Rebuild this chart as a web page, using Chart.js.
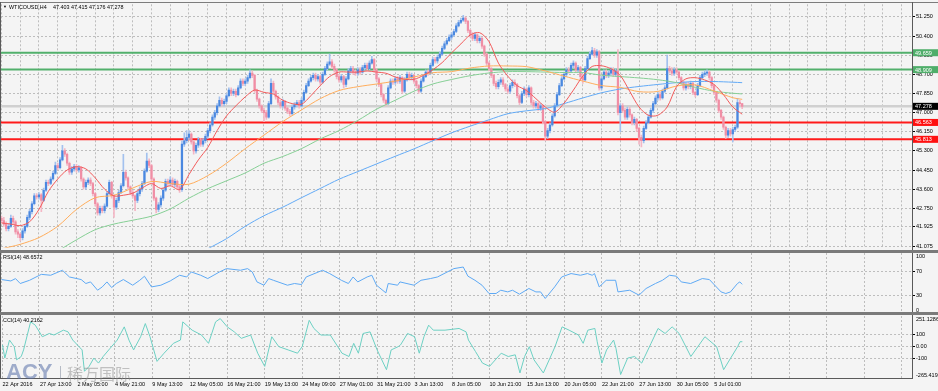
<!DOCTYPE html>
<html lang="en">
<head>
<meta charset="UTF-8">
<title>WTICOUSD,H4</title>
<script src="https://cdn.jsdelivr.net/npm/chart.js"></script>
<style>
  body { margin: 0; background: #f4f4f4; }
  #wrap { position: relative; width: 938px; height: 391px; overflow: hidden; background: #f4f4f4; font-family: 'Liberation Sans', Arial, sans-serif; }
  #wrap canvas { position: absolute; left: 0; }
  .rule { position: absolute; z-index: 2; }
  .txt { position: absolute; z-index: 3; font-size: 5.4px; line-height: 6px; color: #000; white-space: pre; }
  .wm { position: absolute; z-index: 3; white-space: nowrap; }
</style>
</head>
<body>
<div id="wrap">
  <canvas id="mainChart" width="938" height="252" style="top:0"></canvas>
  <canvas id="rsiChart" width="938" height="66" style="top:250px"></canvas>
  <canvas id="cciChart" width="938" height="77" style="top:314px"></canvas>

  <div class="rule" style="left:0;top:2px;width:938px;height:1px;background:#7c7c7c"></div>
  <div class="rule" style="left:0;top:2px;width:1px;height:377px;background:#5a5a5a"></div>
  <div class="rule" style="left:912px;top:2px;width:1px;height:377px;background:#5a5a5a"></div>
  <div class="rule" style="left:0;top:250px;width:938px;height:3px;background:#7a7a7a"></div>
  <div class="rule" style="left:0;top:312px;width:938px;height:3px;background:#7a7a7a"></div>
  <div class="rule" style="left:0;top:378px;width:913px;height:1px;background:#5a5a5a"></div>

  <div class="txt" style="left:3px;top:4px;font-size:4px">▼</div>
  <div class="txt" id="symbol" style="left:9px;top:3.8px">WTICOUSD,H4</div>
  <div class="txt" id="ohlc" style="left:53px;top:3.8px"></div>
  <div class="txt" style="left:3px;top:254px">RSI(14) 48.6572</div>
  <div class="txt" style="left:3px;top:317px">CCI(14) 40.2162</div>

  <div class="wm" style="left:6px;top:361px;font:bold 22px/22px 'Liberation Sans',Arial,sans-serif;color:rgba(88,112,168,0.55)">ACY</div>
  <div class="wm" style="left:60px;top:366px;width:1px;height:13px;background:rgba(120,130,150,0.5)"></div>
  <div class="wm" style="left:67px;top:365px;font:16px/16px 'Noto Sans CJK SC',sans-serif;color:rgba(140,140,140,0.5)">稀万国际</div>
</div>
<script>
  const FONT = "'Liberation Sans', Arial, sans-serif";
  const GRID = '#bdbdbd';
  const X_MIN = -0.2, X_MAX = 388.45;

  // H4 candles, one entry per bar (bar 0 = 22 Apr 2016)
  const opens = [
    42.30,42.20,42.05,41.85,41.95,42.30,42.15,41.70,41.60,41.45,41.75,41.95,42.35,42.60,42.95,43.30,
    43.25,43.35,43.10,43.55,43.90,43.85,44.05,44.30,44.65,44.55,44.90,45.30,45.15,44.75,44.35,44.50,
    44.60,44.45,44.55,44.05,43.70,43.90,44.00,43.85,43.40,42.95,42.55,42.75,42.65,42.85,43.40,43.90,
    43.30,42.80,43.10,43.45,43.75,44.35,44.10,43.70,43.45,43.30,43.10,43.40,43.60,43.85,44.40,44.85,
    44.65,44.05,43.20,42.70,42.90,43.20,43.55,43.95,43.85,44.00,43.80,43.95,43.70,43.58,45.60,45.75,
    45.90,46.05,45.70,45.30,45.55,45.80,45.60,45.75,45.95,46.20,46.45,46.80,47.00,47.30,47.55,47.40,
    47.50,47.75,48.00,47.85,47.95,47.80,48.10,48.40,48.30,48.40,48.55,48.75,48.65,48.00,47.60,47.30,
    47.10,47.00,46.80,47.40,48.30,47.95,47.70,47.45,47.30,47.50,47.20,47.05,46.95,47.25,47.35,47.45,
    47.30,47.55,47.90,48.20,48.40,48.55,48.65,48.50,48.60,48.35,48.70,48.95,49.15,49.25,49.05,48.90,
    48.60,48.45,48.60,48.25,48.50,48.85,48.95,48.80,48.75,48.90,48.80,49.00,49.10,48.95,49.20,49.35,
    48.90,48.50,48.25,47.80,47.55,47.40,48.10,48.40,48.35,48.50,48.40,48.55,47.95,48.45,48.70,48.55,
    48.65,48.40,48.20,47.95,48.40,48.60,48.80,48.75,49.10,49.35,49.30,49.45,49.60,49.85,50.05,50.20,
    50.35,50.45,50.60,50.85,51.00,51.10,51.20,51.05,50.65,50.45,50.30,50.45,50.20,50.30,49.95,49.60,
    49.20,48.95,48.65,48.30,48.15,48.35,48.45,48.25,48.05,47.95,48.20,48.35,48.25,47.75,47.45,47.85,
    48.05,47.80,48.10,47.45,47.30,47.40,47.20,47.30,46.60,45.95,46.20,46.45,46.85,47.30,47.80,48.20,
    48.50,48.70,48.90,48.85,49.10,49.20,48.90,49.00,48.60,48.45,48.95,49.40,49.60,49.75,49.55,49.70,
    48.10,48.50,48.80,48.65,48.75,48.90,48.70,48.85,47.00,47.30,47.10,46.80,47.15,46.90,46.55,46.70,
    46.30,45.90,45.75,46.30,46.55,46.80,47.10,47.40,47.65,47.80,47.65,47.95,48.10,48.95,48.85,48.75,
    48.90,48.80,48.55,48.35,48.10,48.25,48.15,48.30,47.90,47.80,48.20,48.55,48.70,48.75,48.80,48.55,
    48.20,47.90,47.55,47.10,46.80,46.35,46.00,46.20,46.05,46.25,46.35,47.45,47.403
  ];
  const highs = [
    42.40,42.35,42.15,42.05,42.45,42.40,42.20,41.80,41.65,41.85,42.05,42.45,42.70,43.05,43.40,43.40,
    43.45,43.40,43.65,44.00,44.00,44.15,44.40,44.80,44.75,45.00,45.55,45.40,45.20,44.80,44.60,44.70,
    44.70,44.65,44.60,44.10,44.00,44.10,44.10,43.90,43.45,43.00,42.85,42.85,42.95,43.50,44.00,43.95,
    43.35,43.20,43.55,43.85,45.15,44.45,44.15,43.75,43.55,43.35,43.50,43.70,43.95,44.50,45.20,44.95,
    44.70,44.10,43.25,43.00,43.30,43.65,44.05,44.05,44.15,44.10,44.05,44.00,43.80,45.75,46.10,46.20,
    46.20,46.10,45.75,45.65,45.90,45.85,45.85,46.05,46.30,46.55,46.90,47.10,47.40,47.70,47.65,47.60,
    47.85,48.10,48.10,48.05,48.05,48.20,48.50,48.50,48.50,48.65,48.90,48.85,48.70,48.05,47.65,47.35,
    47.20,47.10,47.50,48.50,48.40,48.00,47.75,47.55,47.60,47.55,47.25,47.15,47.35,47.45,47.55,47.55,
    47.65,48.00,48.30,48.50,48.65,48.75,48.75,48.70,48.65,48.80,49.05,49.25,49.60,49.35,49.15,48.95,
    48.70,48.70,48.65,48.60,48.95,49.05,49.05,48.90,49.00,49.00,49.10,49.20,49.20,49.30,49.50,49.40,
    48.95,48.55,48.30,47.85,47.60,48.20,48.50,48.50,48.60,48.60,48.65,48.60,48.55,48.80,48.80,48.75,
    48.70,48.45,48.25,48.50,48.70,48.90,48.90,49.20,49.45,49.45,49.55,49.70,49.95,50.15,50.30,50.45,
    50.55,50.70,50.95,51.10,51.20,51.32,51.25,51.10,50.70,50.55,50.55,50.50,50.40,50.35,50.00,49.65,
    49.25,49.00,48.70,48.40,48.45,48.55,48.55,48.30,48.15,48.30,48.45,48.45,48.30,47.80,47.95,48.15,
    48.10,48.20,48.15,47.55,47.50,47.45,47.40,47.35,46.65,46.30,46.55,46.95,47.40,47.90,48.30,48.60,
    48.80,49.00,49.00,49.20,49.30,49.25,49.10,49.05,48.70,49.05,49.50,49.70,49.90,49.85,49.80,49.75,
    48.60,48.90,48.90,48.85,49.00,49.00,48.95,49.80,47.40,47.40,47.20,47.25,47.25,46.95,46.80,46.75,
    46.35,46.00,46.40,46.65,46.90,47.20,47.50,47.75,47.90,47.90,48.05,48.20,49.55,49.05,49.00,49.00,
    49.00,48.85,48.60,48.40,48.35,48.35,48.40,48.35,47.95,48.30,48.65,48.80,48.85,48.90,48.85,48.60,
    48.25,47.95,47.60,47.15,46.85,46.40,46.30,46.30,46.35,46.45,47.63,47.55,47.415
  ];
  const lows = [
    42.10,41.95,41.75,41.75,41.90,42.05,41.60,41.45,41.30,41.35,41.65,41.90,42.25,42.50,42.90,43.15,
    43.15,42.60,43.05,43.50,43.75,43.80,44.00,44.25,44.45,44.50,44.85,45.05,44.65,44.25,44.25,44.40,
    44.35,44.35,43.95,43.60,43.60,43.80,43.75,43.30,42.85,42.45,42.45,42.55,42.55,42.80,43.35,43.20,
    42.35,42.70,43.00,43.40,43.70,44.00,43.60,43.35,43.20,42.65,43.00,43.30,43.50,43.80,44.35,44.55,
    43.95,43.10,42.55,42.60,42.80,43.10,43.50,43.75,43.75,43.70,43.70,43.60,43.45,43.50,45.50,45.65,
    45.80,45.60,45.15,45.20,45.45,45.50,45.50,45.65,45.85,46.10,46.40,46.70,46.90,47.25,47.30,47.30,
    47.40,47.70,47.75,47.75,47.70,47.75,48.05,48.20,48.20,48.30,48.50,48.55,47.90,47.50,47.20,47.00,
    46.60,46.70,46.75,47.35,47.85,47.60,47.35,47.20,47.20,47.10,46.95,46.85,46.90,47.15,47.25,47.20,
    47.25,47.50,47.85,48.15,48.35,48.45,48.40,48.40,48.25,48.30,48.65,48.90,49.10,48.95,48.80,48.50,
    48.35,48.35,48.10,48.15,48.45,48.75,48.70,48.65,48.65,48.70,48.75,48.90,48.85,48.90,49.15,48.80,
    48.40,48.15,47.70,47.45,47.30,47.35,48.05,48.25,48.25,48.30,48.30,47.85,47.90,48.40,48.45,48.45,
    48.30,48.10,47.85,47.90,48.35,48.55,48.65,48.70,49.05,49.20,49.20,49.40,49.55,49.80,50.00,50.15,
    50.25,50.40,50.55,50.80,50.95,51.05,50.95,50.55,50.35,50.20,50.20,50.10,50.10,49.85,49.50,49.10,
    48.85,48.55,48.20,48.05,48.05,48.25,48.15,47.95,47.85,47.85,48.10,48.15,47.65,47.35,47.40,47.75,
    47.70,47.70,47.35,47.20,47.20,47.10,47.10,46.50,45.75,45.85,46.10,46.40,46.80,47.25,47.75,48.15,
    48.45,48.60,48.75,48.80,49.00,48.80,48.80,48.50,48.30,48.40,48.90,49.35,49.55,49.45,49.45,48.00,
    48.00,48.45,48.55,48.55,48.65,48.60,48.60,46.90,46.15,47.00,46.70,46.70,46.80,46.45,46.45,46.15,
    45.60,45.48,45.65,46.25,46.50,46.75,47.00,47.35,47.55,47.55,47.60,47.90,48.05,48.75,48.65,48.65,
    48.70,48.45,48.25,48.00,48.00,48.05,48.05,47.80,47.70,47.75,48.15,48.50,48.60,48.65,48.45,48.10,
    47.80,47.45,47.00,46.70,46.25,45.85,45.90,45.95,45.70,46.15,46.30,47.30,47.176
  ];
  const closes = [
    42.20,42.05,41.85,41.95,42.30,42.15,41.70,41.60,41.45,41.75,41.95,42.35,42.60,42.95,43.30,43.25,
    43.35,43.10,43.55,43.90,43.85,44.05,44.30,44.65,44.55,44.90,45.30,45.15,44.75,44.35,44.50,44.60,
    44.45,44.55,44.05,43.70,43.90,44.00,43.85,43.40,42.95,42.55,42.75,42.65,42.85,43.40,43.90,43.30,
    42.80,43.10,43.45,43.75,44.35,44.10,43.70,43.45,43.30,43.10,43.40,43.60,43.85,44.40,44.85,44.65,
    44.05,43.20,42.70,42.90,43.20,43.55,43.95,43.85,44.00,43.80,43.95,43.70,43.58,45.60,45.75,45.90,
    46.05,45.70,45.30,45.55,45.80,45.60,45.75,45.95,46.20,46.45,46.80,47.00,47.30,47.55,47.40,47.50,
    47.75,48.00,47.85,47.95,47.80,48.10,48.40,48.30,48.40,48.55,48.75,48.65,48.00,47.60,47.30,47.10,
    47.00,46.80,47.40,48.30,47.95,47.70,47.45,47.30,47.50,47.20,47.05,46.95,47.25,47.35,47.45,47.30,
    47.55,47.90,48.20,48.40,48.55,48.65,48.50,48.60,48.35,48.70,48.95,49.15,49.25,49.05,48.90,48.60,
    48.45,48.60,48.25,48.50,48.85,48.95,48.80,48.75,48.90,48.80,49.00,49.10,48.95,49.20,49.35,48.90,
    48.50,48.25,47.80,47.55,47.40,48.10,48.40,48.35,48.50,48.40,48.55,47.95,48.45,48.70,48.55,48.65,
    48.40,48.20,47.95,48.40,48.60,48.80,48.75,49.10,49.35,49.30,49.45,49.60,49.85,50.05,50.20,50.35,
    50.45,50.60,50.85,51.00,51.10,51.20,51.05,50.65,50.45,50.30,50.45,50.20,50.30,49.95,49.60,49.20,
    48.95,48.65,48.30,48.15,48.35,48.45,48.25,48.05,47.95,48.20,48.35,48.25,47.75,47.45,47.85,48.05,
    47.80,48.10,47.45,47.30,47.40,47.20,47.30,46.60,45.95,46.20,46.45,46.85,47.30,47.80,48.20,48.50,
    48.70,48.90,48.85,49.10,49.20,48.90,49.00,48.60,48.45,48.95,49.40,49.60,49.75,49.55,49.70,48.10,
    48.50,48.80,48.65,48.75,48.90,48.70,48.85,47.00,47.30,47.10,46.80,47.15,46.90,46.55,46.70,46.30,
    45.90,45.75,46.30,46.55,46.80,47.10,47.40,47.65,47.80,47.65,47.95,48.10,48.95,48.85,48.75,48.90,
    48.80,48.55,48.35,48.10,48.25,48.15,48.30,47.90,47.80,48.20,48.55,48.70,48.75,48.80,48.55,48.20,
    47.90,47.55,47.10,46.80,46.35,46.00,46.20,46.05,46.25,46.35,47.45,47.40,47.278
  ];

  // moving averages, read at sample bars
  const maRedX = [0,4,8,12,16,20,24,28,32,36,40,44,48,52,56,60,64,68,72,76,80,84,88,92,96,100,104,108,112,116,
    120,124,128,132,136,140,144,148,152,156,160,164,168,172,176,180,184,188,192,196,200,204,208,212,216,220,
    224,228,232,236,240,244,248,252,256,260,264,268,272,276,280,284,288,292,296,300,304,308,312,316];
  const maRed = [42.10,42.05,41.98,42.15,42.70,43.50,44.05,44.45,44.60,44.50,
    44.10,43.60,43.30,43.33,43.42,43.65,43.85,43.63,43.75,43.58,
    44.25,44.90,45.45,46.20,46.85,47.30,47.70,48.00,47.90,47.82,
    47.55,47.40,47.37,47.75,48.20,48.60,48.80,48.80,48.80,48.85,
    48.80,48.75,48.58,48.48,48.48,48.65,48.90,49.22,49.65,50.05,
    50.45,50.55,50.15,49.20,48.62,48.20,47.98,47.62,47.25,47.02,
    47.42,48.00,48.62,49.05,49.08,48.95,48.65,47.95,47.25,46.88,
    46.88,47.25,48.15,48.50,48.55,48.45,48.25,47.80,47.25,46.93];
  const maOrangeX = [0,8,16,24,32,40,48,56,64,72,80,88,96,104,112,120,128,136,144,152,160,168,176,184,192,
    200,208,216,224,232,240,248,256,264,272,280,288,296,304,312,316];
  const maOrange = [40.95,41.15,41.45,41.95,42.70,43.22,43.33,43.65,43.94,43.85,
    43.82,44.20,44.75,45.40,46.00,46.60,47.12,47.62,47.98,48.15,
    48.27,48.40,48.58,48.77,48.82,48.98,49.07,49.07,49.04,48.85,
    48.62,48.40,48.20,48.12,47.93,47.94,48.18,48.23,47.96,47.66,47.59];
  const maGreenX = [24,32,40,48,56,64,72,80,88,96,104,112,120,128,136,144,152,160,168,176,184,192,
    200,208,216,224,232,240,248,256,264,272,280,288,296,304,312,316];
  const maGreen = [40.85,41.35,41.80,42.05,42.22,42.40,42.72,43.20,43.62,43.97,44.32,44.75,45.05,45.40,
    45.83,46.20,46.65,47.15,47.55,47.95,48.27,48.47,48.64,48.76,48.82,48.82,48.80,48.78,48.78,48.66,
    48.60,48.54,48.46,48.33,48.12,47.95,47.86,47.83];
  const maBlueX = [88,96,104,112,120,128,136,144,152,160,168,176,184,192,200,208,216,224,232,240,
    248,256,264,272,280,288,296,304,312,316];
  const maBlue = [40.95,41.40,41.95,42.42,42.80,43.22,43.63,44.04,44.38,44.72,45.06,45.39,45.75,46.10,
    46.40,46.68,46.95,47.08,47.18,47.40,47.65,47.88,48.05,48.16,48.25,48.33,48.38,48.38,48.35,48.33];

  // horizontal levels and price axis
  const levelValues = [49.659, 48.909, 46.563, 45.813];
  const priceTicks = [51.25, 50.4, 49.55, 48.7, 47.85, 47.0, 46.15, 45.3, 44.45, 43.6, 42.75, 41.925, 41.075];

  // RSI(14)
  const rsiX = [0,4,6,8,12,17,21,26,29,34,36,38,41,43,45,47,49,52,56,59,61,64,68,72,76,79,81,85,88,93,
    96,102,105,107,109,112,114,116,122,125,128,130,137,140,145,148,150,152,156,158,160,164,165,169,170,
    176,179,183,186,193,197,199,202,205,208,211,213,216,218,221,225,228,230,232,236,239,243,247,250,252,
    253,255,258,262,263,268,272,275,279,282,285,288,290,294,299,302,307,309,311,314,315,316];
  const rsiV = [56.5,54.2,58,50,55.3,65,63.5,71.7,60.7,56.5,50,52.6,39,44.4,52.6,43.4,50,56.5,47.2,55.3,
    61.9,44.4,47.2,54.2,63.5,60.7,68.9,63.5,58.1,68.9,74.4,71.7,74.4,68.9,52.6,47.2,58.1,55.3,47.2,50,
    48.3,60.7,71.7,66.3,55.3,50,60.7,52.6,60.7,63.5,47.2,34.6,50,47.2,52.6,47.2,55.3,58.1,60.7,74.4,
    77,62,55.3,47.2,33.6,33.6,39,36.2,39,32.5,41.8,36.2,36.2,25.5,44.4,60.7,66.3,63.5,66.3,63.5,
    66.3,44.4,55.3,55.3,36.2,39,30.9,41.8,50,55.3,63.5,61.9,52.6,50,58.1,56.5,36.2,33.6,36.2,50,52.6,48.66];
  const rsiLevels = [30, 70];

  // CCI(14)
  const cciX = [0,1,3,5,6,8,9,12,14,17,20,22,26,28,30,34,35,37,39,41,43,46,49,52,54,56,59,61,63,66,
    69,73,76,77,81,85,88,91,93,96,99,102,106,109,112,115,118,122,126,128,131,133,136,140,145,148,150,152,154,157,
    160,164,166,169,170,173,176,178,180,182,184,189,195,198,199,202,205,208,213,216,219,221,223,225,227,231,236,239,242,246,
    248,250,253,254,256,258,261,262,264,267,270,273,277,280,283,286,289,294,300,305,308,311,314,315,316];
  const cciV = [14,-94,54,0,-108,-81,-27,203,176,81,108,95,135,121,54,-27,-202,-162,-94,-135,
    -81,-13,54,162,54,-27,81,189,81,-121,-54,27,54,203,135,95,27,203,230,162,
    121,68,95,-54,-162,81,0,-27,-54,0,216,149,95,95,-54,-81,27,-54,108,121,
    -27,-189,-27,0,14,108,81,-54,81,176,135,135,149,121,54,-40,-135,-162,-54,-81,
    -67,-216,-81,0,-108,-216,0,162,135,95,27,135,149,40,-135,-27,54,-13,-229,-94,
    -81,-135,27,149,108,162,108,-81,81,0,-189,-94,0,40,40.22];
  const cciLevels = [100, 0, -100];
  const cciMax = 251.1286, cciMin = -265.419;

  const xLabels = ['22 Apr 2016','27 Apr 13:00','2 May 05:00','4 May 21:00','9 May 13:00','12 May 05:00',
    '16 May 21:00','19 May 13:00','24 May 09:00','27 May 01:00','31 May 21:00','3 Jun 13:00','8 Jun 05:00',
    '10 Jun 21:00','15 Jun 13:00','20 Jun 05:00','22 Jun 21:00','27 Jun 13:00','30 Jun 05:00','5 Jul 01:00'];

  const last = closes.length - 1;
  const lastPrice = closes[last];
  document.getElementById('ohlc').textContent =
    [opens[last], highs[last], lows[last], closes[last]].map(v => v.toFixed(3)).join(' ');

  const fineGrid = [], timeGrid = [];
  for (let b = 0; b <= 384; b += 8) fineGrid.push(b);
  for (let b = 0; b <= 384; b += 16) timeGrid.push(b);

  function timeAxis(gridBars, showLabels) {
    return {
      type: 'linear', min: X_MIN, max: X_MAX, offset: false,
      grid: { color: GRID, drawTicks: false, offset: false },
      border: { display: false, dash: [2, 2] },
      ticks: {
        display: showLabels, font: { family: FONT, size: 5.5 }, color: '#000', padding: 2.5,
        align: 'start', maxRotation: 0, minRotation: 0, autoSkip: false,
        callback: v => xLabels[v / 16] || ''
      },
      afterBuildTicks: s => { s.ticks = gridBars.map(v => ({ value: v })); },
      afterFit: s => { s.height = showLabels ? 12 : 0; }
    };
  }

  function valueAxis(min, max, ticks, showLabels) {
    return {
      position: 'right', min: min, max: max,
      grid: { color: GRID, tickLength: 3, tickColor: '#000', tickBorderDash: [] },
      border: { display: false, dash: [2, 2] },
      ticks: {
        display: showLabels, font: { family: FONT, size: 5.5 }, color: '#000', padding: 1,
        autoSkip: false, callback: v => Number(v).toFixed(3)
      },
      afterBuildTicks: s => { s.ticks = ticks.map(v => ({ value: v })); },
      afterFit: s => { s.width = 26; }
    };
  }

  const baseOptions = {
    responsive: false, animation: false, devicePixelRatio: 1, events: [],
    plugins: { legend: { display: false }, tooltip: { enabled: false } }
  };

  function line(xs, ys, color, order) {
    return {
      type: 'line', data: xs.map((x, k) => ({ x: x, y: ys[k] })),
      borderColor: color, borderWidth: 1, pointRadius: 0, tension: 0.3, order: order
    };
  }

  // price tags on the right axis
  const tagPlugin = {
    id: 'priceTags',
    afterDraw(chart) {
      const { ctx, chartArea, scales: { y } } = chart;
      const tags = levelValues.map((v, k) => ({ v: v, bg: k < 2 ? '#4fae6a' : '#ff1010' }));
      tags.push({ v: lastPrice, bg: '#000' });
      ctx.save();
      ctx.font = '5.5px ' + FONT;
      ctx.textBaseline = 'middle';
      tags.forEach(t => {
        const py = y.getPixelForValue(t.v);
        ctx.fillStyle = t.bg;
        ctx.fillRect(chartArea.right + 1, py - 3.5, 25, 7);
        ctx.fillStyle = '#fff';
        ctx.fillText(t.v.toFixed(3), chartArea.right + 3, py + 0.5);
      });
      ctx.restore();
    }
  };

  function sideLabels(items) {
    return {
      id: 'sideLabels',
      afterDraw(chart) {
        const { ctx, chartArea, scales: { y } } = chart;
        ctx.save();
        ctx.font = '5.5px ' + FONT;
        ctx.fillStyle = '#000';
        ctx.textBaseline = 'middle';
        items.forEach(it => ctx.fillText(it.t, chartArea.right + 4, y.getPixelForValue(it.v) + it.dy));
        ctx.restore();
      }
    };
  }

  const bars = closes.map((c, i) => i);
  const up = bars.map(i => closes[i] >= opens[i]);
  const flat = v => [{ x: X_MIN, y: v }, { x: X_MAX, y: v }];

  new Chart(document.getElementById('mainChart'), {
    type: 'bar',
    data: {
      datasets: [
        line(maRedX, maRed, '#f25a5a', 1),
        line(maOrangeX, maOrange, '#ffad5c', 2),
        line(maGreenX, maGreen, '#86cf95', 2),
        line(maBlueX, maBlue, '#62aaf6', 2),
        { type: 'bar', data: bars.map(i => ({ x: i, y: [opens[i], closes[i]] })),
          backgroundColor: bars.map(i => up[i] ? '#4a88e0' : '#f08ea5'),
          barThickness: 1.6, grouped: false, minBarLength: 1, order: 4 },
        { type: 'bar', data: bars.map(i => ({ x: i, y: [lows[i], highs[i]] })),
          backgroundColor: bars.map(i => up[i] ? '#a3c1ee' : '#f4b7c5'),
          barThickness: 1, grouped: false, minBarLength: 1, order: 5 },
        ...levelValues.map((v, k) => ({ type: 'line', data: flat(v), borderColor: k < 2 ? '#52b06c' : '#ff1a1a',
          borderWidth: 2, pointRadius: 0, order: 6 })),
        { type: 'line', data: flat(lastPrice), borderColor: '#d0d0d0', borderWidth: 2.5, pointRadius: 0, order: 7 }
      ]
    },
    options: Object.assign({}, baseOptions, {
      layout: { padding: { left: 1, right: 0, top: 4, bottom: 2 } },
      scales: { x: timeAxis(fineGrid, false), y: valueAxis(41.0, 51.81, priceTicks, true) }
    }),
    plugins: [tagPlugin]
  });

  new Chart(document.getElementById('rsiChart'), {
    type: 'line',
    data: { datasets: [{ data: rsiX.map((x, k) => ({ x: x, y: rsiV[k] })), borderColor: '#5ea9f4',
      borderWidth: 1, pointRadius: 0, tension: 0 }] },
    options: Object.assign({}, baseOptions, {
      layout: { padding: { left: 1, right: 0, top: 3, bottom: 2 } },
      scales: { x: timeAxis(timeGrid, false), y: valueAxis(0, 100, rsiLevels, false) }
    }),
    plugins: [sideLabels([{ t: '100', v: 100, dy: 3.5 }, { t: '70', v: 70, dy: 0 },
      { t: '30', v: 30, dy: 0 }, { t: '0', v: 0, dy: -3.5 }])]
  });

  new Chart(document.getElementById('cciChart'), {
    type: 'line',
    data: { datasets: [{ data: cciX.map((x, k) => ({ x: x, y: cciV[k] })), borderColor: '#6cd0c3',
      borderWidth: 1, pointRadius: 0, tension: 0 }] },
    options: Object.assign({}, baseOptions, {
      layout: { padding: { left: 1, right: 0, top: 2, bottom: 0 } },
      scales: { x: timeAxis(timeGrid, true), y: valueAxis(cciMin, cciMax, cciLevels, false) }
    }),
    plugins: [sideLabels([{ t: '251.1286', v: cciMax, dy: 3.3 }, { t: '100', v: 100, dy: 0 },
      { t: '0.00', v: 0, dy: 0 }, { t: '-100', v: -100, dy: 0 }, { t: '-265.419', v: cciMin, dy: -3.5 }])]
  });
</script>
</body>
</html>
